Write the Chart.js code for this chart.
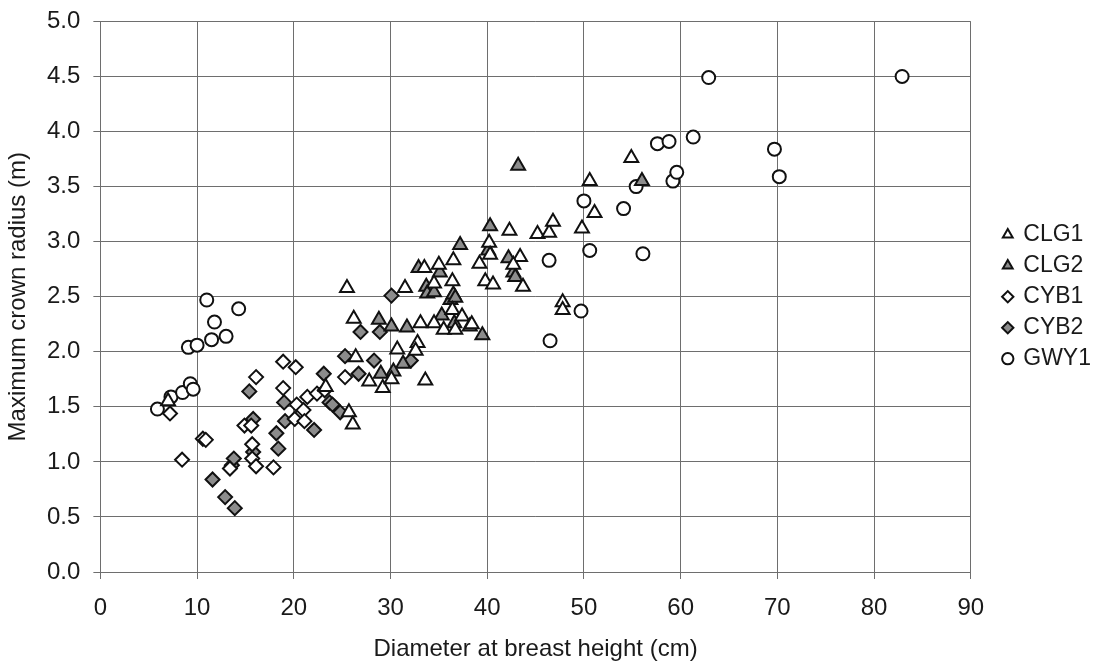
<!DOCTYPE html>
<html>
<head>
<meta charset="utf-8">
<script src="https://cdn.jsdelivr.net/npm/chart.js@4.4.1/dist/chart.umd.min.js"></script>
<style>
  html, body { margin: 0; padding: 0; background: #fff; }
  #wrap { width: 1101px; height: 664px; }
</style>
</head>
<body>
<div id="wrap"><canvas id="chart"></canvas></div>
<script>
// values (dbh in cm, crown radius in m)
const clg1X = [7.0, 25.5, 26.2, 26.4, 27.8, 29.2, 30.1, 30.7, 31.5, 32.8, 32.6, 33.1, 33.6, 33.5, 34.5, 34.5, 35.0, 35.5, 36.4, 36.4, 36.5, 36.7, 37.4, 38.4, 39.2, 39.8, 40.6, 40.2, 40.3, 42.3, 43.4, 42.7, 43.7, 45.2, 46.4, 46.8, 47.8, 47.8, 49.8, 50.6, 51.1, 54.9, 25.7, 26.1, 23.3];
const clg1Y = [1.55, 2.58, 2.30, 1.95, 1.73, 1.67, 1.75, 2.02, 2.58, 2.08, 2.01, 2.26, 1.74, 2.76, 2.26, 2.62, 2.79, 2.20, 2.64, 2.38, 2.83, 2.20, 2.32, 2.25, 2.80, 2.64, 2.61, 2.99, 2.88, 3.10, 2.86, 2.79, 2.59, 3.07, 3.08, 3.18, 2.45, 2.38, 3.12, 3.55, 3.26, 3.76, 1.45, 1.34, 1.68];

const clg2X = [28.8, 30.1, 31.7, 31.3, 30.3, 29.0, 32.9, 33.7, 33.8, 34.5, 35.1, 35.3, 36.2, 36.5, 36.7, 36.6, 37.2, 38.2, 39.5, 40.1, 40.3, 42.2, 42.7, 42.9, 43.2, 56.0];
const clg2Y = [2.29, 2.23, 2.22, 1.89, 1.82, 1.80, 2.76, 2.59, 2.53, 2.54, 2.72, 2.33, 2.47, 2.52, 2.49, 2.26, 2.97, 2.23, 2.15, 2.92, 3.14, 2.85, 2.72, 2.68, 3.69, 3.55];

const cyb1X = [7.2, 8.45, 10.6, 10.9, 13.4, 14.9, 15.6, 15.7, 15.7, 16.1, 16.1, 17.9, 18.9, 18.9, 20.2, 20.3, 21.0, 20.1, 21.1, 21.4, 22.4, 23.2, 25.3];
const cyb1Y = [1.44, 1.02, 1.21, 1.20, 0.94, 1.33, 1.33, 1.16, 1.03, 0.96, 1.77, 0.95, 1.91, 1.67, 1.86, 1.52, 1.47, 1.39, 1.37, 1.59, 1.62, 1.65, 1.77];

const cyb2X = [11.6, 12.9, 13.9, 13.6, 13.8, 15.4, 15.8, 15.8, 18.2, 18.4, 19.0, 19.1, 22.1, 23.1, 23.7, 24.0, 24.8, 25.3, 26.7, 26.9, 28.3, 28.9, 30.1, 32.1];
const cyb2Y = [0.84, 0.68, 0.58, 0.97, 1.03, 1.64, 1.39, 1.09, 1.26, 1.12, 1.54, 1.37, 1.29, 1.80, 1.54, 1.52, 1.45, 1.96, 1.80, 2.18, 1.92, 2.18, 2.51, 1.92];

const gwy1X = [5.9, 7.3, 8.5, 9.3, 9.6, 9.1, 10.0, 11.0, 11.5, 11.8, 13.0, 14.3, 46.4, 46.5, 49.7, 50.0, 50.6, 54.1, 55.4, 56.1, 57.6, 58.8, 59.2, 59.6, 61.3, 62.9, 69.7, 70.2, 82.9];
const gwy1Y = [1.48, 1.59, 1.63, 1.71, 1.66, 2.04, 2.06, 2.47, 2.11, 2.27, 2.14, 2.39, 2.83, 2.10, 2.37, 3.37, 2.92, 3.30, 3.50, 2.89, 3.89, 3.91, 3.55, 3.63, 3.95, 4.49, 3.84, 3.59, 4.50];

const xTicks = [0, 10, 20, 30, 40, 50, 60, 70, 80, 90];
const yTicks = [0, 0.5, 1, 1.5, 2, 2.5, 3, 3.5, 4, 4.5, 5];

const pts = (xs, ys) => xs.map((x, i) => ({ x: x, y: ys[i] }));

const GREY = '#8c8c8c';
const INK = '#111';
const FONT = "'Liberation Sans', Arial, sans-serif";

const ctx = document.querySelector('#chart').getContext('2d');
const chart = new Chart(ctx, {
    type: 'scatter',
    data: {
        datasets: [
            { label: 'CLG1', data: pts(clg1X, clg1Y), pointStyle: 'triangle', pointRadius: 8, backgroundColor: '#fff', borderColor: INK, borderWidth: 2 },
            { label: 'CLG2', data: pts(clg2X, clg2Y), pointStyle: 'triangle', pointRadius: 8, backgroundColor: GREY, borderColor: INK, borderWidth: 2 },
            { label: 'CYB1', data: pts(cyb1X, cyb1Y), pointStyle: 'rectRot', pointRadius: 7, backgroundColor: '#fff', borderColor: INK, borderWidth: 2 },
            { label: 'CYB2', data: pts(cyb2X, cyb2Y), pointStyle: 'rectRot', pointRadius: 7, backgroundColor: GREY, borderColor: INK, borderWidth: 2 },
            { label: 'GWY1', data: pts(gwy1X, gwy1Y), pointStyle: 'circle', pointRadius: 6.5, backgroundColor: '#fff', borderColor: INK, borderWidth: 2 }
        ]
    },
    options: {
        responsive: true,
        maintainAspectRatio: false,
        animation: false,
        layout: { padding: { left: 2, top: 4, right: 0, bottom: 0 } },
        scales: {
            x: {
                type: 'linear',
                min: 0,
                max: 90,
                afterBuildTicks: (s) => { s.ticks = xTicks.map(v => ({ value: v })); },
                ticks: { color: '#1a1a1a', font: { family: FONT, size: 24, lineHeight: 1 }, padding: 17, maxRotation: 0 },
                grid: { color: '#6e6e6e', lineWidth: 1, tickLength: 7 },
                border: { color: '#6e6e6e' },
                title: { display: true, text: 'Diameter at breast height (cm)', color: '#1a1a1a', font: { family: FONT, size: 24, lineHeight: 1 }, padding: { top: 0, bottom: 3 } }
            },
            y: {
                type: 'linear',
                min: 0,
                max: 5,
                afterBuildTicks: (s) => { s.ticks = yTicks.map(v => ({ value: v })); },
                ticks: { color: '#1a1a1a', font: { family: FONT, size: 24, lineHeight: 0.7 }, padding: 13, callback: (v) => Number(v).toFixed(1) },
                grid: { color: '#6e6e6e', lineWidth: 1, tickLength: 7 },
                border: { color: '#6e6e6e' },
                title: { display: true, text: 'Maximum crown radius (m)', color: '#1a1a1a', font: { family: FONT, size: 24, lineHeight: 1 }, padding: { top: 4, bottom: 4 } }
            },
            gap: {
                // empty right axis, only keeps the legend away from the plot
                type: 'linear',
                position: 'right',
                display: true,
                ticks: { display: false },
                grid: { display: false, drawTicks: false },
                border: { display: false },
                afterFit: (s) => { s.width = 25; }
            }
        },
        plugins: {
            legend: {
                position: 'right',
                align: 'center',
                fullSize: false,
                labels: {
                    usePointStyle: true,
                    boxWidth: 8,
                    boxHeight: 8,
                    padding: 8,
                    color: '#1a1a1a',
                    font: { family: FONT, size: 23 }
                }
            },
            tooltip: { enabled: false }
        }
    }
});
</script>
</body>
</html>
